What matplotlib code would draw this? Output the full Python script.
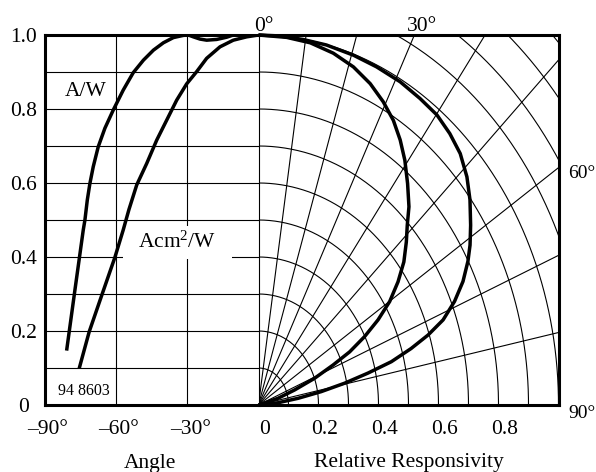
import numpy as np
import matplotlib
matplotlib.use("Agg")
import matplotlib.pyplot as plt
from matplotlib.transforms import offset_copy
from matplotlib.patches import Rectangle

plt.rcParams['font.family'] = ['Liberation Serif', 'DejaVu Serif']
plt.rcParams['mathtext.fontset'] = 'custom'
plt.rcParams['mathtext.rm'] = 'Liberation Serif'
plt.rcParams['mathtext.it'] = 'Liberation Serif:italic'

# ---------------- data ----------------
# Left half: relative responsivity vs. angle (cartesian)
aw_angle = [-80.7, -77.2, -73.7, -73.0, -72.0, -70.9, -69.5, -67.4, -64.6, -61.1,
            -56.9, -52.7, -48.4, -44.2, -40.0, -35.8, -31.6, -29.5, -27.4, -24.6,
            -21.8, -17.6, -13.4, -10.6, 0.0]
aw_value = [0.147, 0.311, 0.473, 0.500, 0.554, 0.599, 0.644, 0.698, 0.748, 0.797,
            0.851, 0.898, 0.932, 0.959, 0.979, 0.993, 0.999, 1.0, 0.995, 0.989,
            0.986, 0.988, 0.994, 1.0, 1.0]

acm_angle = [-75.4, -71.2, -65.9, -60.4, -56.9, -54.5, -51.2, -47.0, -42.8, -38.6,
             -34.4, -30.2, -26.0, -21.8, -16.2, -10.6, -5.0, 0.0]
acm_value = [0.099, 0.198, 0.297, 0.399, 0.473, 0.528, 0.595, 0.653, 0.716, 0.770,
             0.824, 0.868, 0.901, 0.937, 0.968, 0.986, 0.995, 1.0]

# Right half: polar diagram (angle in degrees, relative responsivity)
aw_pol_angle = [0, 4.1, 8.6, 13.1, 18.5, 23.3, 28.4, 33.0, 37.2, 41.0, 44.7, 48.4,
                51.8, 55.5, 58.5, 60.9, 63.9, 66.8, 69.5, 71.5, 73.3, 75.2, 76.7,
                78.4, 80.2, 82.2, 84.7, 86.0]
aw_pol_r = [1.0, 1.0, 0.999, 0.999, 0.997, 0.995, 0.993, 0.988, 0.984, 0.972, 0.956, 0.929,
            0.897, 0.858, 0.827, 0.799, 0.759, 0.711, 0.657, 0.596, 0.531, 0.458, 0.375,
            0.293, 0.212, 0.133, 0.065, 0.0]

acm_pol_angle = [0, 5.4, 10.0, 14.7, 19.1, 23.2, 26.9, 30.3, 33.4, 36.4, 39.7, 43.1,
                 45.6, 48.2, 51.4, 54.4, 57.4, 60.0, 62.4, 64.7, 66.5, 68.9, 71.3,
                 74.5, 78.0]
acm_pol_r = [1.0, 0.998, 0.994, 0.983, 0.967, 0.945, 0.919, 0.891, 0.858, 0.822, 0.778,
             0.734, 0.694, 0.661, 0.620, 0.572, 0.519, 0.460, 0.399, 0.336, 0.271,
             0.200, 0.128, 0.067, 0.0]

# grid / ticks
y_ticks = [0, 0.2, 0.4, 0.6, 0.8, 1.0]
y_labels = ['0', '0.2', '0.4', '0.6', '0.8', '1.0']
angle_ticks = [-90, -60, -30]
angle_labels = ['\u201390\u00b0', '\u201360\u00b0', '\u201330\u00b0']
resp_ticks = [0, 0.2, 0.4, 0.6, 0.8]
resp_labels = ['0', '0.2', '0.4', '0.6', '0.8']
h_grid = [0.1, 0.2, 0.3, 0.4, 0.5, 0.6, 0.7, 0.8, 0.9]
v_grid = [-60, -30]
ring_radii = [0.1, 0.2, 0.3, 0.4, 0.5, 0.6, 0.7, 0.8, 0.9, 1.0, 1.1, 1.2, 1.3, 1.4]
spoke_angles = [10, 20, 30, 40, 50, 60, 70, 80]
SPOKE_SQUEEZE = 0.9

# ---------------- figure ----------------
W, H = 596, 472
fig = plt.figure(figsize=(W / 100, H / 100), dpi=100)


def rect(x0, y0, x1, y1):
    return [x0 / W, 1 - y1 / H, (x1 - x0) / W, (y1 - y0) / H]


axL = fig.add_axes(rect(44.5, 35, 258.5, 405))
axR = fig.add_axes(rect(258.5, 35, 558.5, 405))
axL.set_xlim(-90, 0)
axL.set_ylim(0, 1)
axR.set_xlim(0, 1)
axR.set_ylim(0, 1)
FS = 15.5
FS_SIDE = 14
GRID_LW = 0.8
CURVE_LW = 2.5
for ax in (axL, axR):
    ax.set_xticks([])
    ax.set_yticks([])
    for s in ax.spines.values():
        s.set_linewidth(2.2)
        s.set_color('black')
axL.spines['right'].set_visible(False)
axR.spines['left'].set_visible(False)

# left grid
for v in h_grid:
    axL.axhline(v, color='black', lw=GRID_LW, zorder=1)
for a in v_grid:
    axL.axvline(a, color='black', lw=GRID_LW, zorder=1)

# white box behind the Acm2/W label
axL.add_patch(Rectangle((-57.0, 0.395), 45.8, 0.089, facecolor='white',
                        edgecolor='none', zorder=2))

# right polar grid
axR.axvline(0, color='black', lw=GRID_LW, zorder=1, clip_on=False)
t = np.linspace(0, np.pi / 2, 300)
for r in ring_radii:
    axR.plot(r * np.sin(t), r * np.cos(t), color='black', lw=GRID_LW, zorder=1)
for a in spoke_angles:
    th = np.radians(a)
    axR.plot([0, 3 * SPOKE_SQUEEZE * np.sin(th)], [0, 3 * np.cos(th)],
             color='black', lw=GRID_LW, zorder=1)

# curves
style = dict(color='black', lw=CURVE_LW, zorder=3, solid_capstyle='butt',
             solid_joinstyle='round')
axL.plot(aw_angle, aw_value, **style)
axL.plot(acm_angle, acm_value, **style)
for ang, rr in ((aw_pol_angle, aw_pol_r), (acm_pol_angle, acm_pol_r)):
    th = np.radians(ang)
    rr = np.asarray(rr)
    axR.plot(rr * np.sin(th), rr * np.cos(th), clip_on=False, **style)

# tick labels
for v, lab in zip(y_ticks, y_labels):
    axL.text(-90, v, lab, fontsize=FS, ha='center', va='baseline',
             transform=offset_copy(axL.transData, fig=fig, x=-21, y=-6.5, units='dots'))
for a, lab in zip(angle_ticks, angle_labels):
    axL.text(a, 0, lab, fontsize=FS, ha='center', va='baseline',
             transform=offset_copy(axL.transData, fig=fig, x=3, y=-29, units='dots'))
for v, lab in zip(resp_ticks, resp_labels):
    axR.text(v, 0, lab, fontsize=FS, ha='center', va='baseline',
             transform=offset_copy(axR.transData, fig=fig, x=6.5, y=-29, units='dots'))

# polar angle labels
axR.text(0, 1, '0\u00b0', fontsize=FS, ha='center', va='baseline',
         transform=offset_copy(axR.transData, fig=fig, x=5.5, y=4, units='dots'))
th30 = np.radians(30)
axR.text(SPOKE_SQUEEZE * np.tan(th30), 1, '30\u00b0', fontsize=FS, ha='center', va='baseline',
         transform=offset_copy(axR.transData, fig=fig, x=7.5, y=4, units='dots'))
th60 = np.radians(60)
axR.text(1, 1 / (SPOKE_SQUEEZE * np.tan(th60)), '60\u00b0', fontsize=FS_SIDE, ha='left',
         va='baseline', transform=offset_copy(axR.transData, fig=fig, x=9.5, y=-10, units='dots'),
         clip_on=False)
axR.text(1, 0, '90\u00b0', fontsize=FS_SIDE, ha='left', va='baseline',
         transform=offset_copy(axR.transData, fig=fig, x=9.5, y=-12.5, units='dots'))

# axis titles
axL.text(0.5, 0, 'Angle', fontsize=FS, ha='center', va='baseline',
         transform=offset_copy(axL.transAxes, fig=fig, x=-1.5, y=-63, units='dots'))
axR.text(0.5, 0, 'Relative Responsivity', fontsize=FS, ha='center', va='baseline',
         transform=offset_copy(axR.transAxes, fig=fig, x=0.5, y=-62, units='dots'))

# in-plot labels
fig.text(65 / W, 1 - 96 / H, 'A/W', fontsize=FS, ha='left', va='baseline', zorder=5)
fig.text(177.5 / W, 1 - 248 / H, r'Acm$^{\mathrm{2}}$/W', fontsize=FS, ha='center',
         va='baseline', zorder=5)
fig.text(58 / W, 1 - 395 / H, '94 8603', fontsize=11.5, ha='left', va='baseline', zorder=5)

fig.savefig('out.png', dpi=100)
